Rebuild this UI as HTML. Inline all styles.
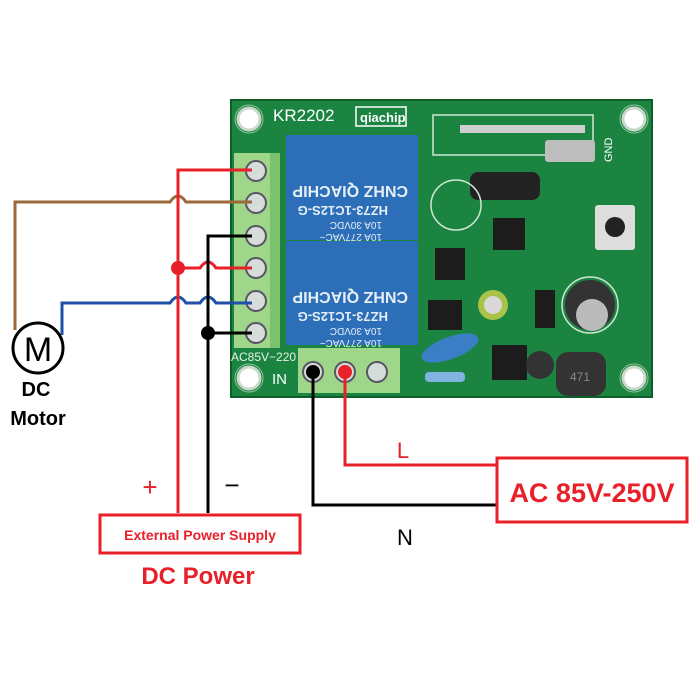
<!DOCTYPE html>
<html><head><meta charset="utf-8"><style>
html,body{margin:0;padding:0;background:#fff;width:700px;height:700px;overflow:hidden}
svg{display:block}
text{font-family:"Liberation Sans",sans-serif}
</style></head><body>
<svg width="700" height="700" viewBox="0 0 700 700" xmlns="http://www.w3.org/2000/svg">
<rect width="700" height="700" fill="#fff"/>
<rect x="231" y="100" width="421" height="297" fill="#1b8440" stroke="#0e5e2a" stroke-width="2"/>
<g fill="#fff" stroke="#c9d9cc" stroke-width="3">
<circle cx="249" cy="119" r="11"/><circle cx="634" cy="119" r="11"/>
<circle cx="249" cy="378" r="11"/><circle cx="634" cy="378" r="11"/>
</g>
<g fill="none" stroke="#8fc49a" stroke-width="1">
<circle cx="249" cy="119" r="14"/><circle cx="634" cy="119" r="14"/>
<circle cx="249" cy="378" r="14"/><circle cx="634" cy="378" r="14"/>
</g>
<text x="273" y="121" font-size="17" fill="#fff">KR2202</text>
<rect x="356" y="107" width="50" height="19" fill="none" stroke="#fff" stroke-width="1.5"/>
<text x="360" y="122" font-size="13" fill="#fff" font-weight="bold">qiachip</text>
<text x="231" y="361" font-size="12" fill="#e8f0e8">AC85V−220</text>
<text x="272" y="384" font-size="15" fill="#fff" font-family="Liberation Serif">IN</text>
<rect x="433" y="115" width="160" height="40" fill="none" stroke="#d0e6d4" stroke-width="1.5"/>
<rect x="460" y="125" width="125" height="8" fill="#cfcfcf"/>
<rect x="545" y="140" width="50" height="22" fill="#bdbdbd" rx="3"/>
<rect x="470" y="172" width="70" height="28" fill="#222" rx="8"/>
<text x="600" y="150" font-size="11" fill="#fff" transform="rotate(-90 612 150)">GND</text>
<circle cx="456" cy="205" r="25" fill="none" stroke="#d0e6d4" stroke-width="1.5"/>
<rect x="493" y="218" width="32" height="32" fill="#1c1c1c"/>
<rect x="435" y="248" width="30" height="32" fill="#1c1c1c"/>
<rect x="595" y="205" width="40" height="45" fill="#ddd" rx="3"/><circle cx="615" cy="227" r="10" fill="#222"/>
<rect x="428" y="300" width="34" height="30" fill="#1c1c1c"/>
<circle cx="493" cy="305" r="15" fill="#a8c24a"/><circle cx="493" cy="305" r="9" fill="#d8d8d8"/>
<rect x="535" y="290" width="20" height="38" fill="#1c1c1c"/>
<circle cx="590" cy="305" r="28" fill="none" stroke="#d0e6d4" stroke-width="1.5"/>
<circle cx="590" cy="305" r="25" fill="#333"/><circle cx="592" cy="315" r="16" fill="#bbb"/>
<rect x="492" y="345" width="35" height="35" fill="#1c1c1c"/>
<circle cx="540" cy="365" r="14" fill="#333"/>
<rect x="556" y="352" width="50" height="44" fill="#333" rx="12"/>
<text x="570" y="381" font-size="12" fill="#888">471</text>
<ellipse cx="450" cy="348" rx="30" ry="11" fill="#3a7fc6" transform="rotate(-20 450 348)"/>
<rect x="425" y="372" width="40" height="10" fill="#7fb3e0" rx="4"/>
<rect x="286" y="135" width="132" height="105" fill="#2c6fb8"/>
<rect x="286" y="241" width="132" height="104" fill="#2c6fb8"/>
<g fill="#e6eef8" font-size="10">
<text x="318" y="146" transform="rotate(180 350 190)">10A 277VAC~</text>
<text x="318" y="158" transform="rotate(180 350 190)">10A 30VDC</text>
<text x="312" y="174" font-size="13" font-weight="bold" transform="rotate(180 350 190)">HZ73-1C12S-G</text>
<text x="292" y="194" font-size="16" font-weight="bold" transform="rotate(180 350 190)">CNHZ QIACHIP</text>
<text x="318" y="252" transform="rotate(180 350 296)">10A 277VAC~</text>
<text x="318" y="264" transform="rotate(180 350 296)">10A 30VDC</text>
<text x="312" y="280" font-size="13" font-weight="bold" transform="rotate(180 350 296)">HZ73-1C12S-G</text>
<text x="292" y="300" font-size="16" font-weight="bold" transform="rotate(180 350 296)">CNHZ QIACHIP</text>
</g>
<rect x="234" y="153" width="44" height="195" fill="#9fd68a"/>
<rect x="270" y="153" width="10" height="195" fill="#7cc26c"/>
<g fill="#d6dcd8" stroke="#556" stroke-width="2">
<circle cx="256" cy="171" r="10"/><circle cx="256" cy="203" r="10"/><circle cx="256" cy="236" r="10"/>
<circle cx="256" cy="268" r="10"/><circle cx="256" cy="301" r="10"/><circle cx="256" cy="333" r="10"/>
</g>
<rect x="298" y="348" width="102" height="45" fill="#9fd68a"/>
<g fill="#d6dcd8" stroke="#556" stroke-width="2">
<circle cx="313" cy="372" r="10"/><circle cx="345" cy="372" r="10"/><circle cx="377" cy="372" r="10"/>
</g>
<g fill="none" stroke-width="3">
<path d="M15 330 V202 H170 q8 -12 16 0 H252" stroke="#9a6a3a"/>
<path d="M62 335 V303 H170 q8 -12 16 0 H200 q8 -12 16 0 H252" stroke="#1f4fa8"/>
<path d="M178 513 V170 H252" stroke="#e8202a"/>
<path d="M178 268 H200 q8 -12 16 0 H252" stroke="#e8202a"/>
<path d="M208 513 V236 H252 M208 333 H252" stroke="#000"/>
<path d="M313 372 V505 H497" stroke="#000"/>
<path d="M345 372 V465 H497" stroke="#e8202a"/>
</g>
<circle cx="178" cy="268" r="7" fill="#e8202a"/>
<circle cx="208" cy="333" r="7" fill="#000"/>
<circle cx="313" cy="372" r="7" fill="#000"/>
<circle cx="345" cy="372" r="7" fill="#e8202a"/>
<circle cx="38" cy="348" r="25" fill="#fff" stroke="#000" stroke-width="3"/>
<text x="38" y="361" font-size="34" text-anchor="middle">M</text>
<text x="36" y="396" font-size="20" font-weight="bold" text-anchor="middle">DC</text>
<text x="38" y="425" font-size="20" font-weight="bold" text-anchor="middle">Motor</text>
<text x="150" y="496" font-size="26" fill="#e8202a" text-anchor="middle">+</text>
<text x="232" y="494" font-size="26" text-anchor="middle">−</text>
<text x="403" y="458" font-size="22" fill="#e8202a" text-anchor="middle">L</text>
<text x="405" y="545" font-size="22" text-anchor="middle">N</text>
<rect x="497" y="458" width="190" height="64" fill="#fff" stroke="#e8202a" stroke-width="3"/>
<text x="592" y="502" font-size="27" font-weight="bold" fill="#e8202a" text-anchor="middle">AC 85V-250V</text>
<rect x="100" y="515" width="200" height="38" fill="#fff" stroke="#e8202a" stroke-width="3"/>
<text x="200" y="540" font-size="14" font-weight="bold" fill="#e8202a" text-anchor="middle">External Power Supply</text>
<text x="198" y="584" font-size="24" font-weight="bold" fill="#e8202a" text-anchor="middle">DC Power</text>
</svg>
</body></html>
